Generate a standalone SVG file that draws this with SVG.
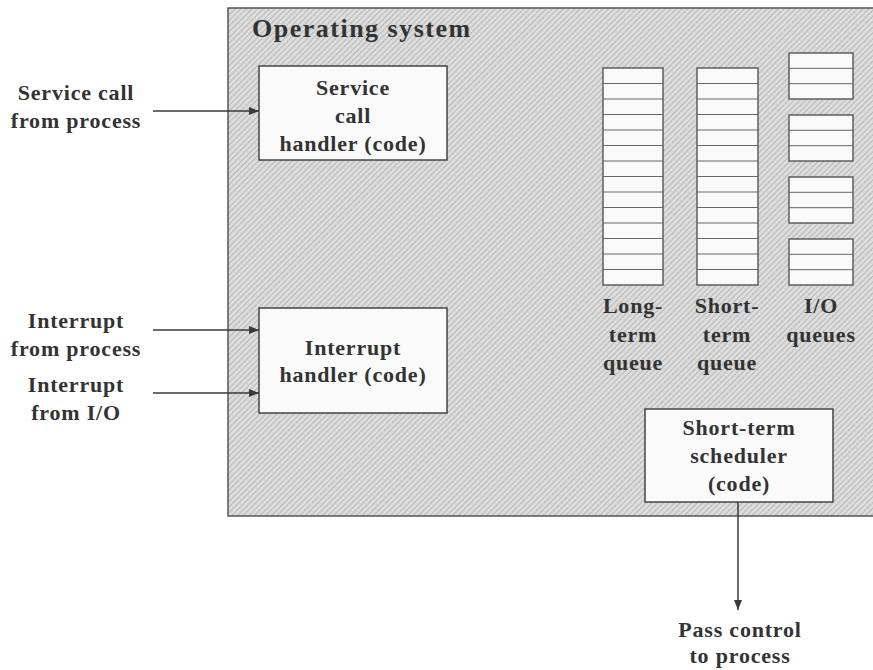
<svg xmlns="http://www.w3.org/2000/svg" width="873" height="670" viewBox="0 0 873 670">
<defs>
<pattern id="hatch" width="4" height="4" patternUnits="userSpaceOnUse" patternTransform="rotate(45)">
<rect width="4" height="4" fill="#dcdcdc"/>
<line x1="0" y1="0" x2="0" y2="4" stroke="#a0a0a0" stroke-width="1.2"/>
</pattern>
<marker id="arr" viewBox="0 0 10 8" refX="10" refY="4" markerWidth="10" markerHeight="8" markerUnits="userSpaceOnUse" orient="auto">
<path d="M0,0 L10,4 L0,8 Z" fill="#3a3a3a"/>
</marker>
<style>
text{font-family:"Liberation Serif","Times New Roman",serif;font-weight:bold;fill:#333;font-size:22px;letter-spacing:0.8px;text-anchor:middle}
.title{font-size:26px;letter-spacing:1.5px;text-anchor:start}
.box{fill:#fafafa;stroke:#444;stroke-width:1.5}
.q{fill:#fafafa;stroke:#555;stroke-width:1.4}
.ql{stroke:#666;stroke-width:1}
.conn{stroke:#3a3a3a;stroke-width:1.5;fill:none;marker-end:url(#arr)}
</style>
</defs>
<rect width="873" height="670" fill="#ffffff"/>
<g id="os">
<rect x="228" y="8" width="660" height="508" fill="url(#hatch)" stroke="#555" stroke-width="1.5"/>
<text class="title" x="252" y="37">Operating system</text>
</g>
<g id="service-handler">
<rect class="box" x="259" y="66" width="188" height="94"/>
<text x="353" y="95">Service</text>
<text x="353" y="123">call</text>
<text x="353" y="151">handler (code)</text>
</g>
<g id="interrupt-handler">
<rect class="box" x="259" y="308" width="188" height="105"/>
<text x="353" y="355">Interrupt</text>
<text x="353" y="382">handler (code)</text>
</g>
<g id="scheduler">
<rect class="box" x="645" y="409" width="188" height="93"/>
<text x="739" y="435">Short-term</text>
<text x="739" y="463">scheduler</text>
<text x="739" y="491">(code)</text>
</g>
<g id="long-term-queue">
<rect class="q" x="603" y="68" width="60" height="217"/>
<path class="ql" d="M603,83.5H663M603,99H663M603,114.5H663M603,130H663M603,145.5H663M603,161H663M603,176.5H663M603,192H663M603,207.5H663M603,223H663M603,238.5H663M603,254H663M603,269.5H663"/>
<text x="633" y="313">Long-</text>
<text x="633" y="342">term</text>
<text x="633" y="370">queue</text>
</g>
<g id="short-term-queue">
<rect class="q" x="697" y="68" width="61" height="217"/>
<path class="ql" d="M697,83.5H758M697,99H758M697,114.5H758M697,130H758M697,145.5H758M697,161H758M697,176.5H758M697,192H758M697,207.5H758M697,223H758M697,238.5H758M697,254H758M697,269.5H758"/>
<text x="727" y="313">Short-</text>
<text x="727" y="342">term</text>
<text x="727" y="370">queue</text>
</g>
<g id="io-queues">
<rect class="q" x="789" y="53" width="64" height="46"/>
<path class="ql" d="M789,68.3H853M789,83.7H853"/>
<rect class="q" x="789" y="115" width="64" height="46"/>
<path class="ql" d="M789,130.3H853M789,145.7H853"/>
<rect class="q" x="789" y="177" width="64" height="46"/>
<path class="ql" d="M789,192.3H853M789,207.7H853"/>
<rect class="q" x="789" y="239" width="64" height="46"/>
<path class="ql" d="M789,254.3H853M789,269.7H853"/>
<text x="821" y="313">I/O</text>
<text x="821" y="342">queues</text>
</g>
<g id="labels">
<text x="76" y="100">Service call</text>
<text x="76" y="128">from process</text>
<text x="76" y="328">Interrupt</text>
<text x="76" y="356">from process</text>
<text x="76" y="392">Interrupt</text>
<text x="76" y="420">from I/O</text>
<text x="740" y="637">Pass control</text>
<text x="740" y="663">to process</text>
</g>
<g id="connectors">
<line class="conn" x1="153" y1="111" x2="259" y2="111"/>
<line class="conn" x1="153" y1="330" x2="259" y2="330"/>
<line class="conn" x1="153" y1="393" x2="259" y2="393"/>
<line class="conn" x1="738" y1="502" x2="738" y2="610"/>
</g>
</svg>
